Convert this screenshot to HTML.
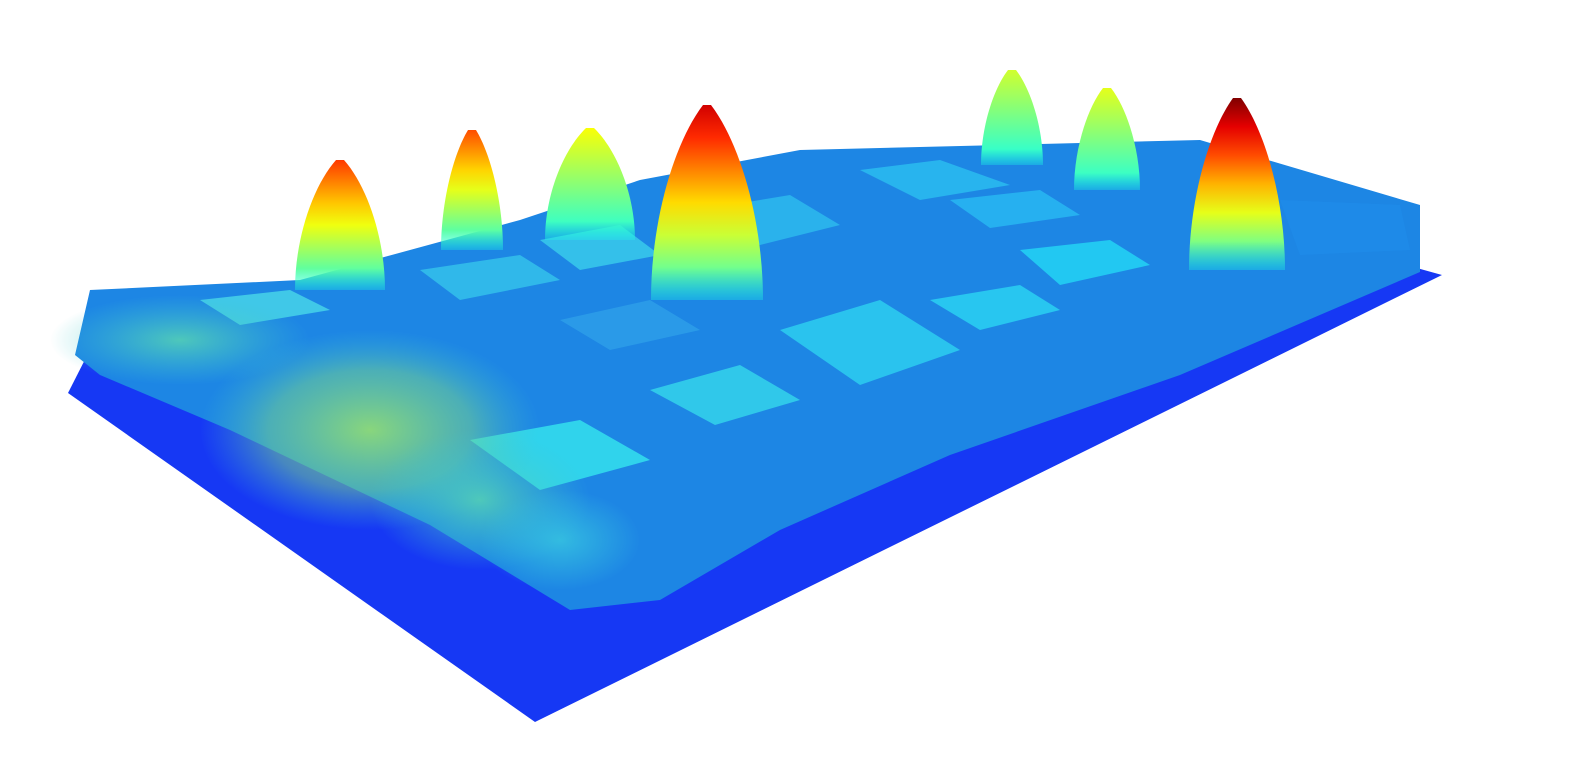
<!DOCTYPE html>
<html><head><meta charset="utf-8"><style>
html,body{margin:0;padding:0;background:#fff;width:1596px;height:780px;overflow:hidden}
svg{display:block}
</style></head><body>
<svg id="scene" width="1596" height="780" viewBox="0 0 1596 780" xmlns="http://www.w3.org/2000/svg">
<defs>
<radialGradient id="veg1"><stop offset="0" stop-color="#9ce46a" stop-opacity="0.85"/><stop offset="0.6" stop-color="#7ad88a" stop-opacity="0.5"/><stop offset="1" stop-color="#40c8d0" stop-opacity="0"/></radialGradient>
<radialGradient id="veg2"><stop offset="0" stop-color="#5ad8b0" stop-opacity="0.8"/><stop offset="1" stop-color="#40c8d0" stop-opacity="0"/></radialGradient>
<radialGradient id="veg3"><stop offset="0" stop-color="#38c8e0" stop-opacity="0.8"/><stop offset="1" stop-color="#38c8e0" stop-opacity="0"/></radialGradient>
</defs>
<polygon points="68,393 535,722 1442,275 1395,262 1010,170 100,330" fill="#1638f4"/>
<polygon points="75,355 90,290 300,280 520,220 640,180 800,150 1200,140 1420,205 1420,272 1180,375 950,455 780,530 660,600 570,610 430,525 230,430 100,375" fill="#1d86e4"/>
<g>
<polygon points="780,330 880,300 960,350 860,385" fill="#2ac3ee"/>
<polygon points="650,390 740,365 800,400 715,425" fill="#30c8ea"/>
<polygon points="470,440 580,420 650,460 540,490" fill="#30d3ec"/>
<polygon points="930,300 1020,285 1060,310 980,330" fill="#28c6f0"/>
<polygon points="1020,250 1110,240 1150,265 1060,285" fill="#22c8f2"/>
<polygon points="860,170 940,160 1010,185 920,200" fill="#28b4ee"/>
<polygon points="700,210 790,195 840,225 760,245" fill="#2ab2ec"/>
<polygon points="540,240 620,225 660,255 580,270" fill="#34c0ea"/>
<polygon points="200,300 290,290 330,310 240,325" fill="#40c8e8"/>
<polygon points="560,320 650,300 700,330 610,350" fill="#2a9ae8"/>
<polygon points="1280,200 1400,205 1410,250 1300,255" fill="#1e8ae8"/>
<polygon points="420,270 520,255 560,280 460,300" fill="#30b8ea"/>
<polygon points="950,200 1040,190 1080,215 990,228" fill="#26b0f0"/>
</g>
<g>
<ellipse cx="370" cy="430" rx="170" ry="100" fill="url(#veg1)"/>
<ellipse cx="480" cy="500" rx="110" ry="70" fill="url(#veg2)"/>
<ellipse cx="180" cy="340" rx="130" ry="45" fill="url(#veg2)"/>
<ellipse cx="560" cy="540" rx="80" ry="50" fill="url(#veg3)"/>
</g>
<g id="trees"></g>
</svg>
<script>
const treeX = [340, 472, 590, 707, 1012, 1107, 1237];
const treeTop = [160, 130, 128, 105, 70, 88, 98];
const treeBase = [290, 250, 240, 300, 165, 190, 270];
const treeWidth = [90, 62, 90, 112, 62, 66, 96];
const treeHeight = [0.82, 0.8, 0.62, 0.92, 0.58, 0.6, 1.0];

function jet(t){
  t=Math.max(0,Math.min(1,t));
  const r=Math.max(0,Math.min(1,1.5-Math.abs(4*t-3)));
  const g=Math.max(0,Math.min(1,1.5-Math.abs(4*t-2)));
  const b=Math.max(0,Math.min(1,1.5-Math.abs(4*t-1)));
  return `rgb(${Math.round(r*255)},${Math.round(g*255)},${Math.round(b*255)})`;
}
const NS="http://www.w3.org/2000/svg";
const svg=document.getElementById('scene');
const defs=svg.querySelector('defs');
const g=document.getElementById('trees');
treeX.forEach((x,i)=>{
  const grad=document.createElementNS(NS,'linearGradient');
  grad.setAttribute('id','tg'+i);
  grad.setAttribute('x1','0');grad.setAttribute('y1','0');grad.setAttribute('x2','0');grad.setAttribute('y2','1');
  const n=6;
  for(let k=0;k<=n;k++){
    const s=document.createElementNS(NS,'stop');
    s.setAttribute('offset',(k/n));
    s.setAttribute('stop-color',jet(treeHeight[i]-(treeHeight[i]-0.4)*k/n));
    s.setAttribute('stop-opacity', k===n?0.3:1);
    grad.appendChild(s);
  }
  defs.appendChild(grad);
  const top=treeTop[i], base=treeBase[i], w=treeWidth[i], h=base-top;
  const p=document.createElementNS(NS,'path');
  
  
  const d=`M${x-4},${top} L${x+4},${top} C${x+w*0.3},${top+h*0.2} ${x+w*0.5},${top+h*0.6} ${x+w/2},${base} L${x-w/2},${base} C${x-w*0.5},${top+h*0.6} ${x-w*0.3},${top+h*0.2} ${x-4},${top} Z`;
  p.setAttribute('d',d);
  p.setAttribute('fill','url(#tg'+i+')');
  g.appendChild(p);
});
</script>
</body></html>
